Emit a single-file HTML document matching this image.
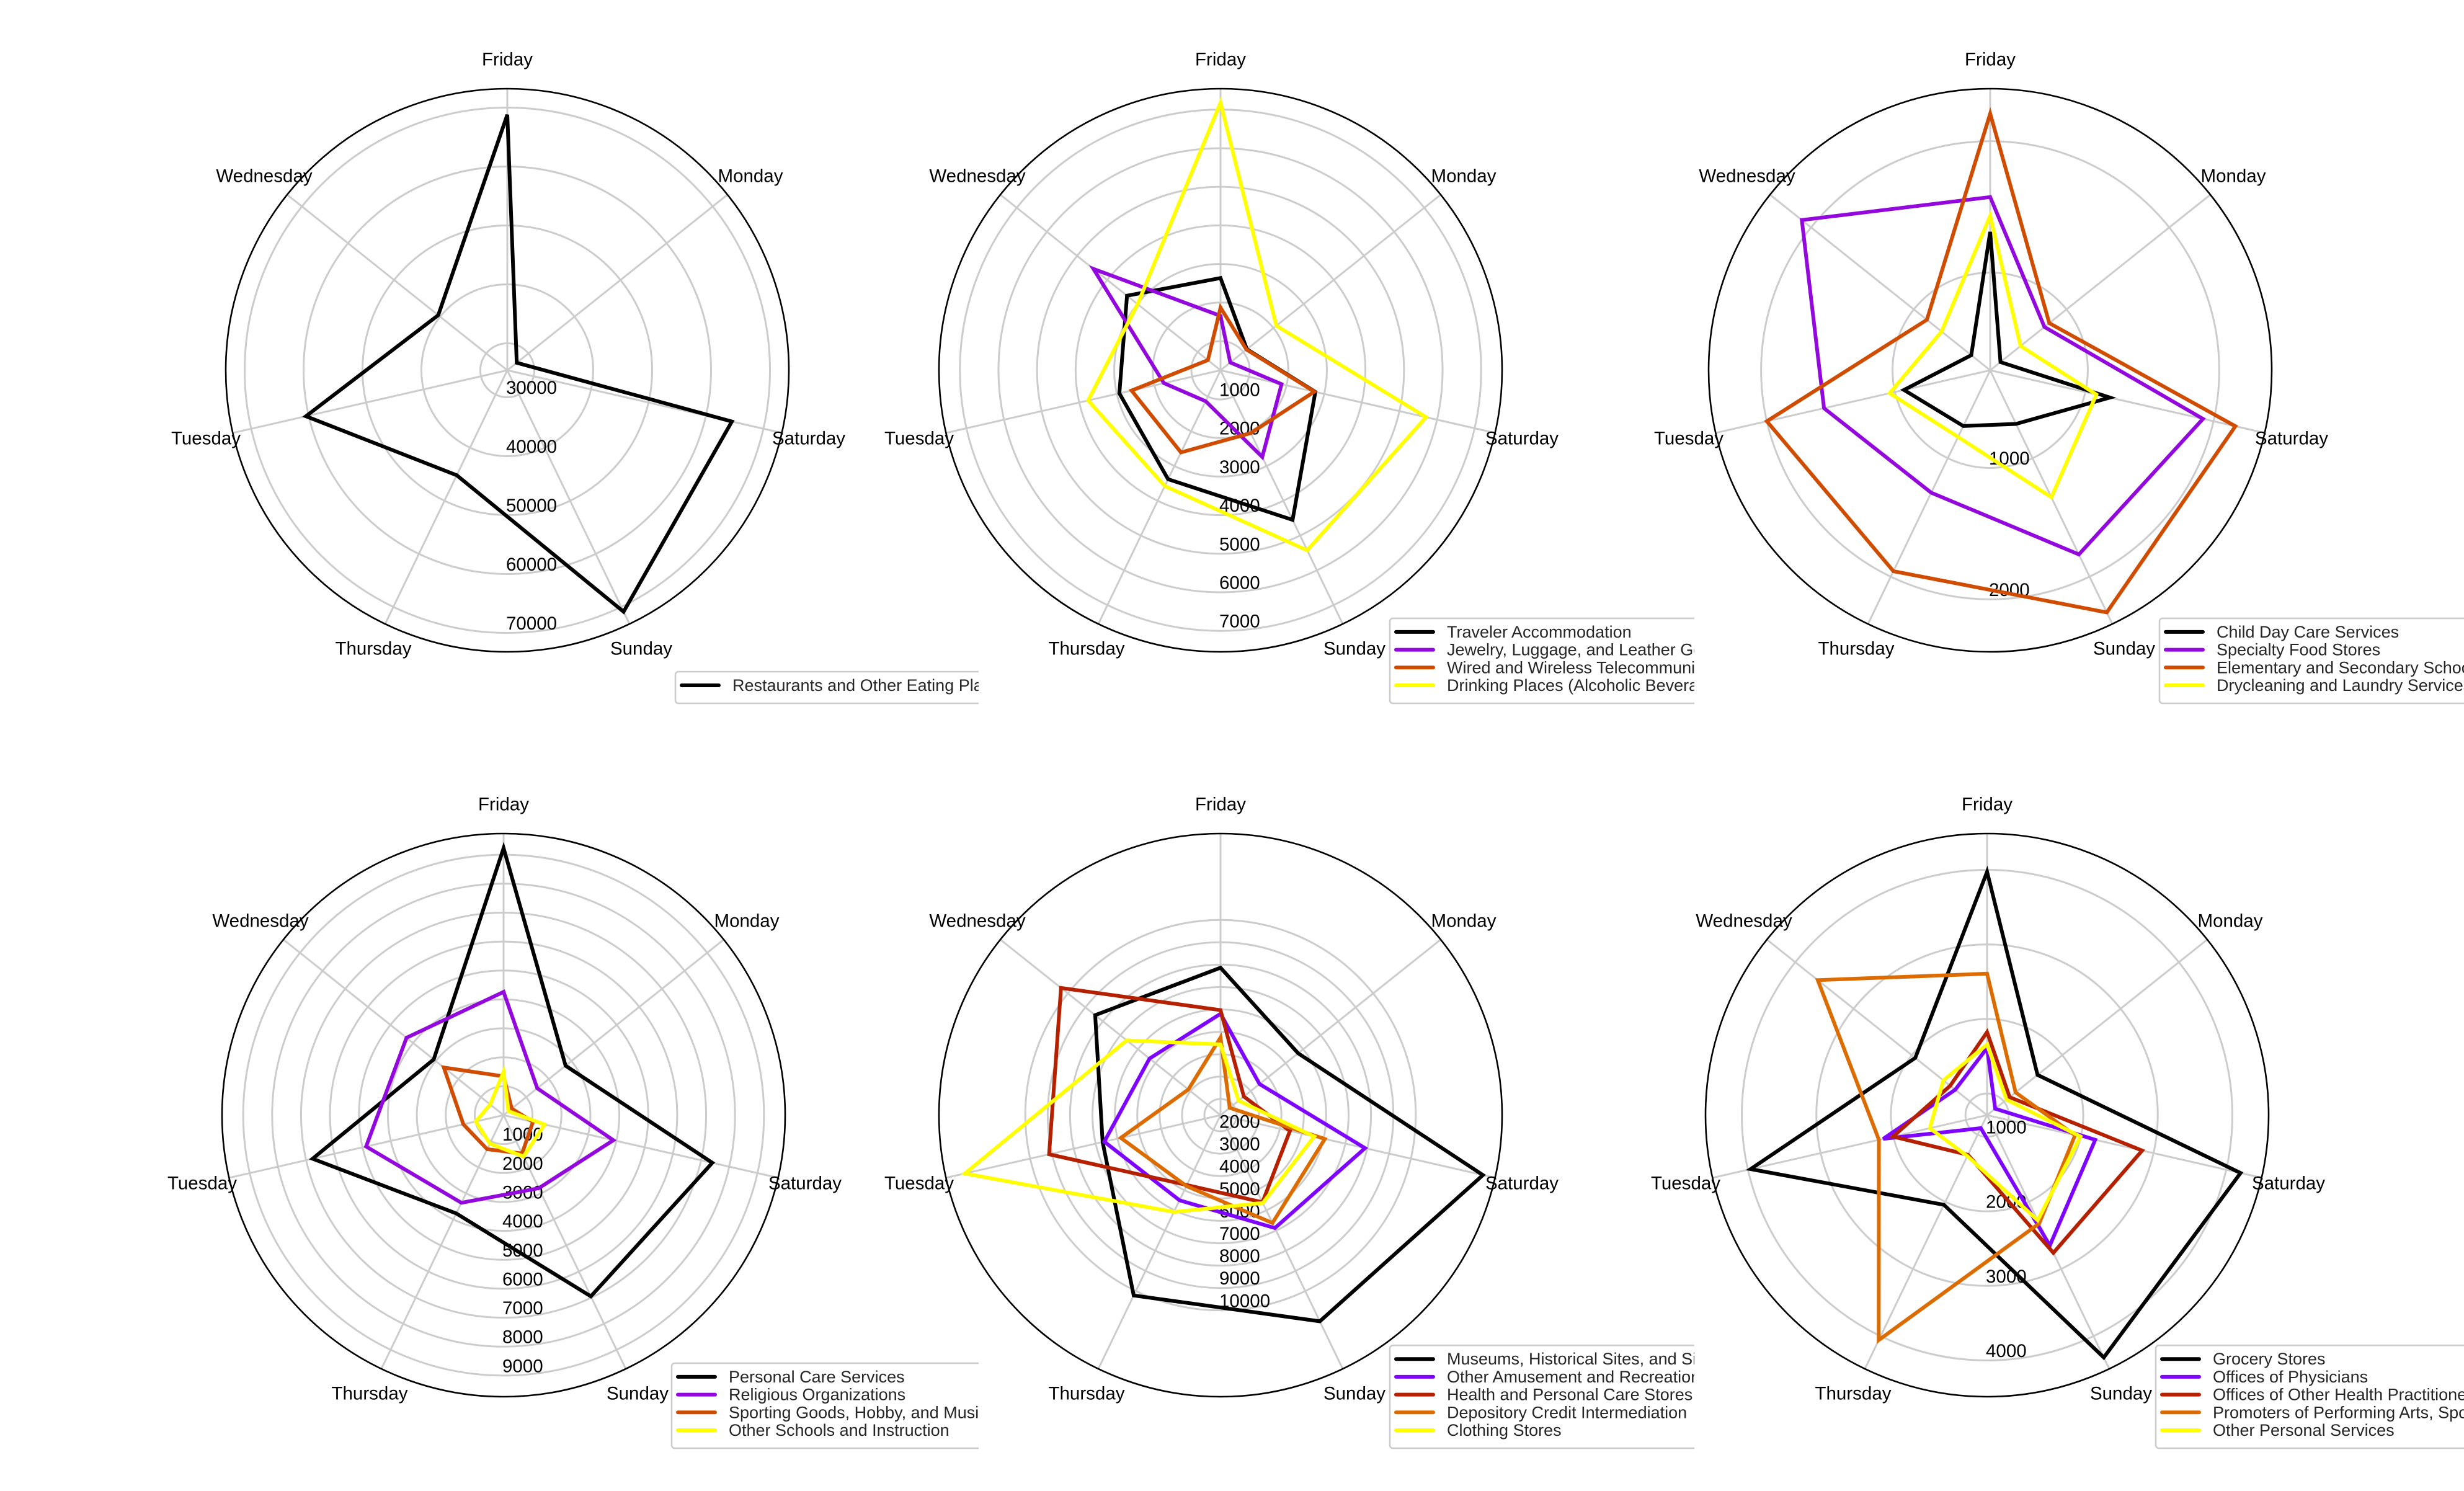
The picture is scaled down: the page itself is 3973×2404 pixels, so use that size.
<!DOCTYPE html>
<html><head><meta charset="utf-8"><style>
html,body{margin:0;padding:0;background:#fff;}
svg{display:block;font-family:"Liberation Sans",Arial,sans-serif;}
</style></head><body>
<svg id="fig" width="3973" height="2404" viewBox="0 0 3973 2404" xmlns="http://www.w3.org/2000/svg">
<defs>
<clipPath id="clipA"><rect x="0" y="0" width="1578" height="2404"/></clipPath>
<clipPath id="clipB"><rect x="1600" y="0" width="1132" height="2404"/></clipPath>
<clipPath id="clipC"><rect x="2740" y="0" width="1233" height="2404"/></clipPath>
</defs>
<rect x="0" y="0" width="3973" height="2404" fill="#fff"/>
</svg>
<script>
// ---- data ----
const days = ["Friday","Monday","Saturday","Sunday","Thursday","Tuesday","Wednesday"];

const p1Ticks = [30000,40000,50000,60000,70000];
const p1Names = ["Restaurants and Other Eating Places"];
const restaurants = [68790,27470,64515,70900,45200,60480,40420];

const p2Ticks = [1000,2000,3000,4000,5000,6000,7000];
const p2Names = ["Traveler Accommodation","Jewelry, Luggage, and Leather Goods Stores","Wired and Wireless Telecommunications Carriers","Drinking Places (Alcoholic Beverages)"];
const traveler = [2635,1118,2765,4548,3377,2934,3344];
const jewelry = [1654,566,1866,2739,1135,1749,4458];
const wired = [1868,1104,2739,2051,2607,2609,664];
const drinking = [7180,2095,5709,5424,3575,3763,2993];

const p3Ticks = [1000,2000];
const p3Names = ["Child Day Care Services","Specialty Food Stores","Elementary and Secondary Schools","Drycleaning and Laundry Services"];
const childCare = [1310,357,1191,710,728,930,441];
const specialtyFood = [1575,785,1918,1812,1291,1554,2090];
const schools = [2210,832,2171,2302,1954,2000,873];
const drycleaning = [1432,553,1086,1330,820,1041,730];

const p4Ticks = [1000,2000,3000,4000,5000,6000,7000,8000,9000];
const p4Names = ["Personal Care Services","Religious Organizations","Sporting Goods, Hobby, and Musical Instrument Stores","Other Schools and Instruction"];
const personalCare = [9229,2741,7400,6952,3771,6773,3089];
const religious = [4259,1490,3891,2802,3361,4874,4291];
const sporting = [1341,360,1042,1472,1307,1428,2642];
const otherSchools = [1499,215,1452,1587,1093,983,593];

const p5Ticks = [2000,3000,4000,5000,6000,7000,8000,9000,10000];
const p5Names = ["Museums, Historical Sites, and Similar Institutions","Other Amusement and Recreation Industries","Health and Personal Care Stores","Depository Credit Intermediation","Clothing Stores"];
const museums = [7865,5712,13302,11500,10219,6682,8441];
const amusement = [5806,3510,7900,6876,5502,6604,5338];
const healthStores = [5969,2612,4460,5596,4745,9133,10393];
const depository = [4745,1804,6058,6626,4790,5848,3119];
const clothing = [4441,2313,5574,5635,6078,12992,6637];

const p6Ticks = [1000,2000,3000,4000];
const p6Names = ["Grocery Stores","Offices of Physicians","Offices of Other Health Practitioners","Promoters of Performing Arts, Sports, and Similar Events","Other Personal Services"];
const grocery = [3974,1576,4198,4318,2044,3964,1942];
const physicians = [1610,849,2198,2651,904,2139,1257];
const otherHealth = [1824,1097,2843,2760,1300,2004,1343];
const promoters = [2608,1199,1920,2322,4059,2198,3615];
const otherPersonal = [1658,1043,1996,2275,1320,1498,1460];

// ---- layout (not data) ----
const C4 = ["#000000","#9309dd","#d04c00","#ffff00"];
const C5 = ["#000000","#7f04ff","#b42000","#dd6c00","#ffff00"];
const panels = [
 {id:"p1",cx:818,cy:597,v0:25420,k:0.0095,ticks:p1Ticks,names:p1Names,series:[restaurants],colors:["#000"],lx:1089,clip:"clipA"},
 {id:"p2",cx:1968,cy:597,v0:244,k:0.0622,ticks:p2Ticks,names:p2Names,series:[traveler,jewelry,wired,drinking],colors:C4,lx:2241,clip:"clipB"},
 {id:"p3",cx:3209,cy:597,v0:257,k:0.2119,ticks:p3Ticks,names:p3Names,series:[childCare,specialtyFood,schools,drycleaning],colors:C4,lx:3482,clip:"clipC"},
 {id:"p4",cx:812,cy:1798,v0:0,k:0.04665,ticks:p4Ticks,names:p4Names,series:[personalCare,religious,sporting,otherSchools],colors:C4,lx:1083,clip:"clipA"},
 {id:"p5",cx:1968,cy:1798,v0:1280,k:0.0361,ticks:p5Ticks,names:p5Names,series:[museums,amusement,healthStores,depository,clothing],colors:C5,lx:2241,clip:"clipB"},
 {id:"p6",cx:3204,cy:1798,v0:710,k:0.1202,ticks:p6Ticks,names:p6Names,series:[grocery,physicians,otherHealth,promoters,otherPersonal],colors:C5,lx:3476,clip:"clipC"}
];
const R = 454;
const labelOff = [[0,-501],[392,-313],[486,110],[216,449],[-216,449],[-486,110],[-392,-313]];
const NS = "http://www.w3.org/2000/svg";
const svg = document.getElementById("fig");
function mk(tag, attrs, parent){const e=document.createElementNS(NS,tag);for(const a in attrs)e.setAttribute(a,attrs[a]);(parent||svg).appendChild(e);return e;}
function ang(i){return (90 - i*360/days.length)*Math.PI/180;}

panels.forEach(function(p){
  const g = mk("g",{});
  
  
  const rs = function(v){return Math.max(0,(v - p.v0)*p.k);};
  // grid circles
  p.ticks.forEach(function(t){
    const c = mk("circle",{cx:p.cx,cy:p.cy,r:rs(t),fill:"none",stroke:"#cccccc","stroke-width":3},g);
    
    
  });
  // spokes
  days.forEach(function(d,i){
    const a = ang(i);
    const l = mk("line",{x1:p.cx,y1:p.cy,x2:p.cx+R*Math.cos(a),y2:p.cy-R*Math.sin(a),stroke:"#cccccc","stroke-width":3},g);
    
    
  });
  // outer spine
  const sp = mk("circle",{cx:p.cx,cy:p.cy,r:R,fill:"none",stroke:"#000","stroke-width":2.6},g);
  
  
  // tick labels
  p.ticks.forEach(function(t){
    const tx = mk("text",{x:p.cx-2,y:p.cy+rs(t)-15,"font-size":29.5,fill:"#000","dominant-baseline":"central"},g);
    tx.textContent = String(t);
    
    
  });
  // day labels
  days.forEach(function(d,i){
    const tx = mk("text",{x:p.cx+labelOff[i][0],y:p.cy+labelOff[i][1],"font-size":29.5,fill:"#000","text-anchor":"middle","dominant-baseline":"central"},g);
    tx.textContent = d;
    
    
  });
  // series
  p.series.forEach(function(vals,si){
    const pts = vals.map(function(v,i){const a=ang(i),r=rs(v);return (p.cx+r*Math.cos(a)).toFixed(1)+","+(p.cy-r*Math.sin(a)).toFixed(1);});
    const pg = mk("polygon",{points:pts.join(" "),fill:"none",stroke:p.colors[si],"stroke-width":6,"stroke-linejoin":"miter"},g);
    
    
  });
  // legend
  const n = p.names.length;
  const bottom = p.cy + 537;
  const top = bottom - (44 + (n-1)*28.7 + 7);
  const lg = mk("g",{"clip-path":"url(#"+p.clip+")"});
  
  
  const box = mk("rect",{x:p.lx,y:top,width:1400,height:bottom-top,rx:5,fill:"#fff",stroke:"#cccccc","stroke-width":2.6},lg);
  
  
  p.names.forEach(function(nm,si){
    const yy = top + 22 + si*28.7;
    const ln = mk("line",{x1:p.lx+10,y1:yy,x2:p.lx+70,y2:yy,stroke:p.colors[si],"stroke-width":6,"stroke-linecap":"round"},lg);
    
    
    const tx = mk("text",{x:p.lx+92,y:yy,"font-size":27,fill:"#262626","dominant-baseline":"central"},lg);
    tx.textContent = nm;
    
    
  });
});
</script>
</body></html>
